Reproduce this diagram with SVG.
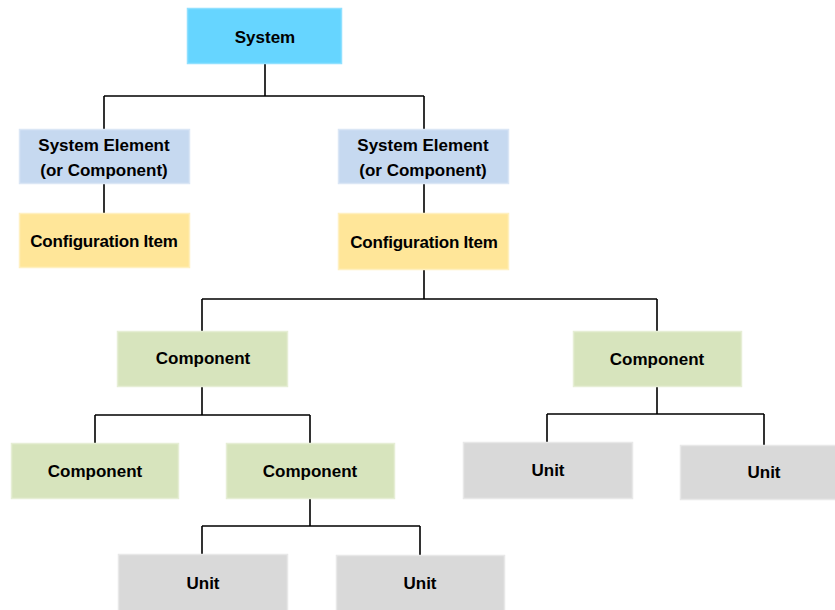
<svg xmlns="http://www.w3.org/2000/svg" width="835" height="610" viewBox="0 0 835 610">
<style>
.box{stroke-width:1.5}
.sys{fill:#66d5ff;stroke:#8fe0ff}
.el{fill:#c6d9f0;stroke:#dae6f5}
.ci{fill:#ffe699;stroke:#fff0c0}
.cp{fill:#d7e4bd;stroke:#e6eed5}
.un{fill:#d9d9d9;stroke:#e8e8e8}
text{font-family:"Liberation Sans",Arial,sans-serif;font-weight:bold;font-size:17px;fill:#000;text-anchor:middle}
.conn{fill:none;stroke:#000;stroke-width:1.6}
</style>
<rect width="835" height="610" fill="#fff"/>
<g id="connectors">
<path class="conn" d="M265 64V96M104 96H424M104 96V129M424 96V129"/>
<path class="conn" d="M104 183V213M424 184V213"/>
<path class="conn" d="M424 270V299M202 299H657M202 299V331M657 299V331"/>
<path class="conn" d="M202 386V415M95 415H310M95 415V443M310 415V443"/>
<path class="conn" d="M657 386V414M547 414H764M547 414V442M764 414V445"/>
<path class="conn" d="M310 498V526M202 526H420M202 526V554M420 526V555"/>
</g>
<g id="system"><rect class="box sys" x="187.5" y="8.5" width="154" height="55"/><text x="265" y="43">System</text></g>
<g id="element-left"><rect class="box el" x="19.5" y="129.5" width="170" height="54"/><text x="104" y="151">System Element</text><text x="104" y="176">(or Component)</text></g>
<g id="element-right"><rect class="box el" x="338.5" y="129.5" width="170" height="54"/><text x="423" y="151">System Element</text><text x="423" y="176">(or Component)</text></g>
<g id="ci-left"><rect class="box ci" x="19.5" y="213.5" width="170" height="54"/><text x="104" y="247" letter-spacing="-0.2">Configuration Item</text></g>
<g id="ci-right"><rect class="box ci" x="338.5" y="213.5" width="170" height="56"/><text x="424" y="248" letter-spacing="-0.2">Configuration Item</text></g>
<g id="comp-1"><rect class="box cp" x="117.5" y="331.5" width="170" height="55"/><text x="203" y="364">Component</text></g>
<g id="comp-2"><rect class="box cp" x="573.5" y="331.5" width="168" height="55"/><text x="657" y="365">Component</text></g>
<g id="comp-3"><rect class="box cp" x="11.5" y="443.5" width="167" height="55"/><text x="95" y="477">Component</text></g>
<g id="comp-4"><rect class="box cp" x="226.5" y="443.5" width="168" height="55"/><text x="310" y="477">Component</text></g>
<g id="unit-1"><rect class="box un" x="463.5" y="442.5" width="169" height="56"/><text x="548" y="476">Unit</text></g>
<g id="unit-2"><rect class="box un" x="680.5" y="445.5" width="156" height="54"/><text x="764" y="478">Unit</text></g>
<g id="unit-3"><rect class="box un" x="118.5" y="554.5" width="169" height="57"/><text x="203" y="589">Unit</text></g>
<g id="unit-4"><rect class="box un" x="336.5" y="555.5" width="168" height="56"/><text x="420" y="589">Unit</text></g>
</svg>
